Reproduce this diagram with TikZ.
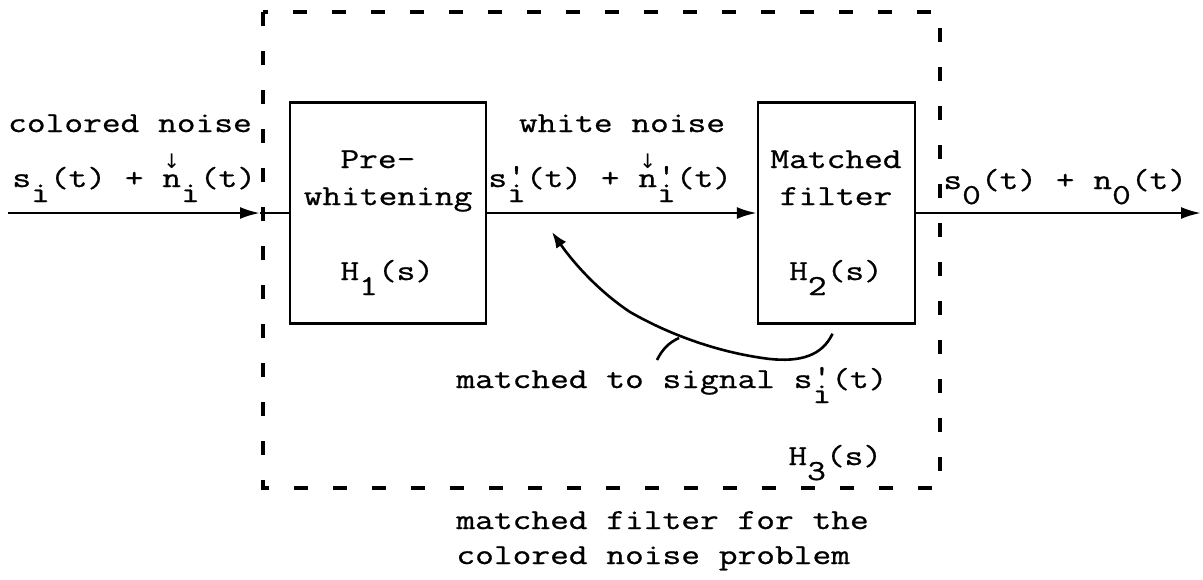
\documentclass[tikz,border=0pt]{standalone}
\usepackage{fontspec}
\newfontfamily\typer[FakeStretch=1.255,FakeBold=0.8]{Latin Modern Mono}
\newfontfamily\arrowfont{DejaVu Sans}
\usetikzlibrary{arrows.meta}

% lowered index, and lowered index with a prime above it
\newcommand{\low}[1]{\raisebox{-7.5pt}{#1}}
\newcommand{\lowp}[1]{\rlap{\raisebox{1.5pt}{'}}\raisebox{-7.5pt}{#1}}
% small typed arrow over a letter
\newcommand{\downmark}[1]{\setbox0\hbox{#1}\rlap{\hbox to \wd0{\hss\raisebox{9.5pt}{\arrowfont\fontsize{10}{10}\selectfont ↓}\hss}}\box0}

\tikzset{
  typed/.style={font=\typer\fontsize{14.5}{18.5}\selectfont, inner sep=0pt},
  block/.style={draw, line width=1.2pt, minimum height=110.5pt, inner sep=0pt},
  signal/.style={line width=1.3pt},
  flow/.style={signal, -{Latex[length=10pt,width=6pt]}},
  composite/.style={line width=1.6pt, dash pattern=on 7pt off 12.5pt},
}

\begin{document}
\begin{tikzpicture}[x=0.5pt,y=-0.5pt]
\useasboundingbox (0,0) rectangle (1203,579);

% blocks
\node[block, minimum width=98pt] (prew) at (388,213) {};
\node[block, minimum width=78.5pt] (mf) at (836.5,213) {};
\draw[composite] (263,12) rectangle (940,488);

% signal path
\coordinate (src) at (8,213);
\coordinate (entry) at (260,213);
\coordinate (sink) at (1201,213);
\draw[flow] (src) -- (entry);
\draw[signal] (entry) -- (prew.west);
\draw[flow] (prew) -- (mf);
\draw[flow] (mf) -- (sink);

% curved pointer back to the line
\coordinate (aim) at (552,232);
\draw[signal, -{Latex[length=8pt,width=6pt]}] ([shift={(-4,9)}]mf.south) .. controls (822,356) and (800,362) .. (770,359) .. controls (720,353) and (670,335) .. (630,312) .. controls (600,292) and (575,265) .. (aim);
\draw[signal] (679,338) .. controls (668,343) and (662,350) .. (657,360);

% % % % % % % % % % % % % % % % % % % % % % % % % %

\node[typed, anchor=base] (cnoise) at (130,132) {colored noise};
\node[typed, anchor=base west] (xin) at (12,187) {s\low{i}(t) + \downmark{n}\low{i}(t)};

\node[typed, anchor=base west] (pre) at (340,168) {Pre-};
\node[typed, anchor=base] (whiten) at (388,205) {whitening};
\node[typed, anchor=base west] (hone) at (340,280) {H\low{1}(s)};

\node[typed, anchor=base] (wnoise) at (622,132) {white noise};
\node[typed, anchor=base west] (xwhite) at (488,187) {s\lowp{i}(t) + \downmark{n}\lowp{i}(t)};

\node[typed, anchor=base] (matched) at (836,168) {Matched};
\node[typed, anchor=base] (filter) at (836,205) {filter};
\node[typed, anchor=base] (htwo) at (836,280) {H\low{2}(s)};

\node[typed, anchor=base west] (xout) at (943,189) {s\low{0}(t) + n\low{0}(t)};

\node[typed, anchor=base west] (note) at (456,388) {matched to signal s\lowp{i}(t)};
\node[typed, anchor=base west] (hthree) at (788,465) {H\low{3}(s)};

\node[typed, anchor=base west] (capa) at (456,529) {matched filter for the};
\node[typed, anchor=base west] (capb) at (456,564) {colored noise problem};
\end{tikzpicture}
\end{document}
